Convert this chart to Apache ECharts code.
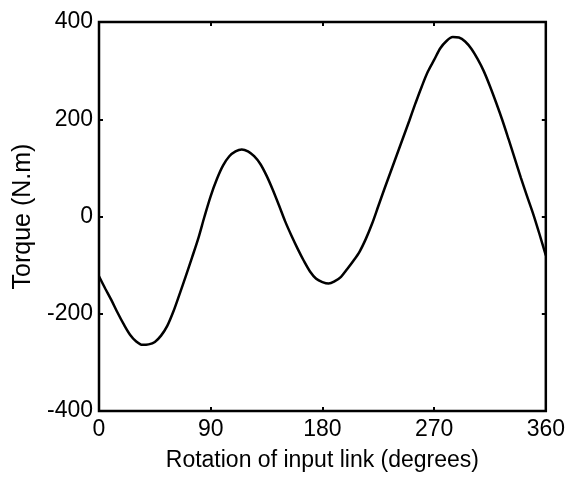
<!DOCTYPE html>
<html>
<head>
<meta charset="utf-8">
<script src="https://cdn.jsdelivr.net/npm/echarts@6/dist/echarts.min.js"></script>
<style>
  html, body { margin: 0; padding: 0; background: #fff; }
  #chart { width: 568px; height: 477px; }
</style>
</head>
<body>
<div id="chart"></div>
<script>
// rotation angle of input link (degrees), every 5 degrees
const angles = [0, 5, 10, 15, 20, 25, 30, 35, 40, 45, 50, 55, 60, 65, 70, 75, 80, 85, 90,
  95, 100, 105, 110, 115, 120, 125, 130, 135, 140, 145, 150, 155, 160, 165, 170, 175, 180,
  185, 190, 195, 200, 205, 210, 215, 220, 225, 230, 235, 240, 245, 250, 255, 260, 265, 270,
  275, 280, 285, 290, 295, 300, 305, 310, 315, 320, 325, 330, 335, 340, 345, 350, 355, 360];
// torque (N.m)
const torque = [-123, -148, -172, -198, -222, -243, -257, -264, -263, -258, -245, -225, -195, -159, -122, -84, -45, 0, 42,
  77, 105, 124, 134, 138, 134, 124, 108, 84, 55, 23, -10, -39, -66, -91, -113, -128, -135,
  -138, -133, -124, -108, -91, -72, -46, -15, 21, 57, 92, 127, 162, 197, 233, 267, 298, 322,
  346, 361, 369, 368, 360, 345, 324, 299, 268, 234, 198, 159, 119, 79, 41, 4, -37, -80];
const xTicks = [0, 90, 180, 270, 360];
const yTicks = [-400, -200, 0, 200, 400];

const chart = echarts.init(document.getElementById("chart"));

const font = "Liberation Sans, Arial, sans-serif";
const tick = { show: true, inside: true, length: 4, lineStyle: { color: "#000", width: 2 } };
const plainAxis = {
  axisLine: { show: false, onZero: false },
  axisLabel: { show: false },
  splitLine: { show: false },
  axisTick: tick
};

const option = {
  animation: false,
  grid: {
    left: 99, right: 18, top: 22, bottom: 63,
    show: true, borderColor: "#000", borderWidth: 2.5
  },
  xAxis: [
    {
      type: "value", min: xTicks[0], max: xTicks[xTicks.length - 1], interval: 90,
      position: "bottom",
      name: "Rotation of input link (degrees)", nameLocation: "middle", nameGap: 38,
      nameTextStyle: { color: "#000", fontSize: 23, fontFamily: font },
      axisLine: { show: false, onZero: false },
      axisTick: tick,
      axisLabel: { color: "#000", fontSize: 23, fontFamily: font, margin: 7 },
      splitLine: { show: false }
    },
    Object.assign({ type: "value", min: 0, max: 360, interval: 90, position: "top" }, plainAxis)
  ],
  yAxis: [
    {
      type: "value", min: yTicks[0], max: yTicks[yTicks.length - 1], interval: 200,
      position: "left",
      name: "Torque (N.m)", nameLocation: "middle", nameGap: 62,
      nameTextStyle: { color: "#000", fontSize: 25, fontFamily: font },
      axisLine: { show: false, onZero: false },
      axisTick: tick,
      axisLabel: { color: "#000", fontSize: 23, fontFamily: font, margin: 6 },
      splitLine: { show: false }
    },
    Object.assign({ type: "value", min: -400, max: 400, interval: 200, position: "right" }, plainAxis)
  ],
  series: [
    {
      type: "line",
      data: angles.map((a, i) => [a, torque[i]]),
      smooth: 0.3,
      showSymbol: false,
      lineStyle: { color: "#000", width: 2.5 }
    }
  ]
};

chart.setOption(option);
</script>
</body>
</html>
